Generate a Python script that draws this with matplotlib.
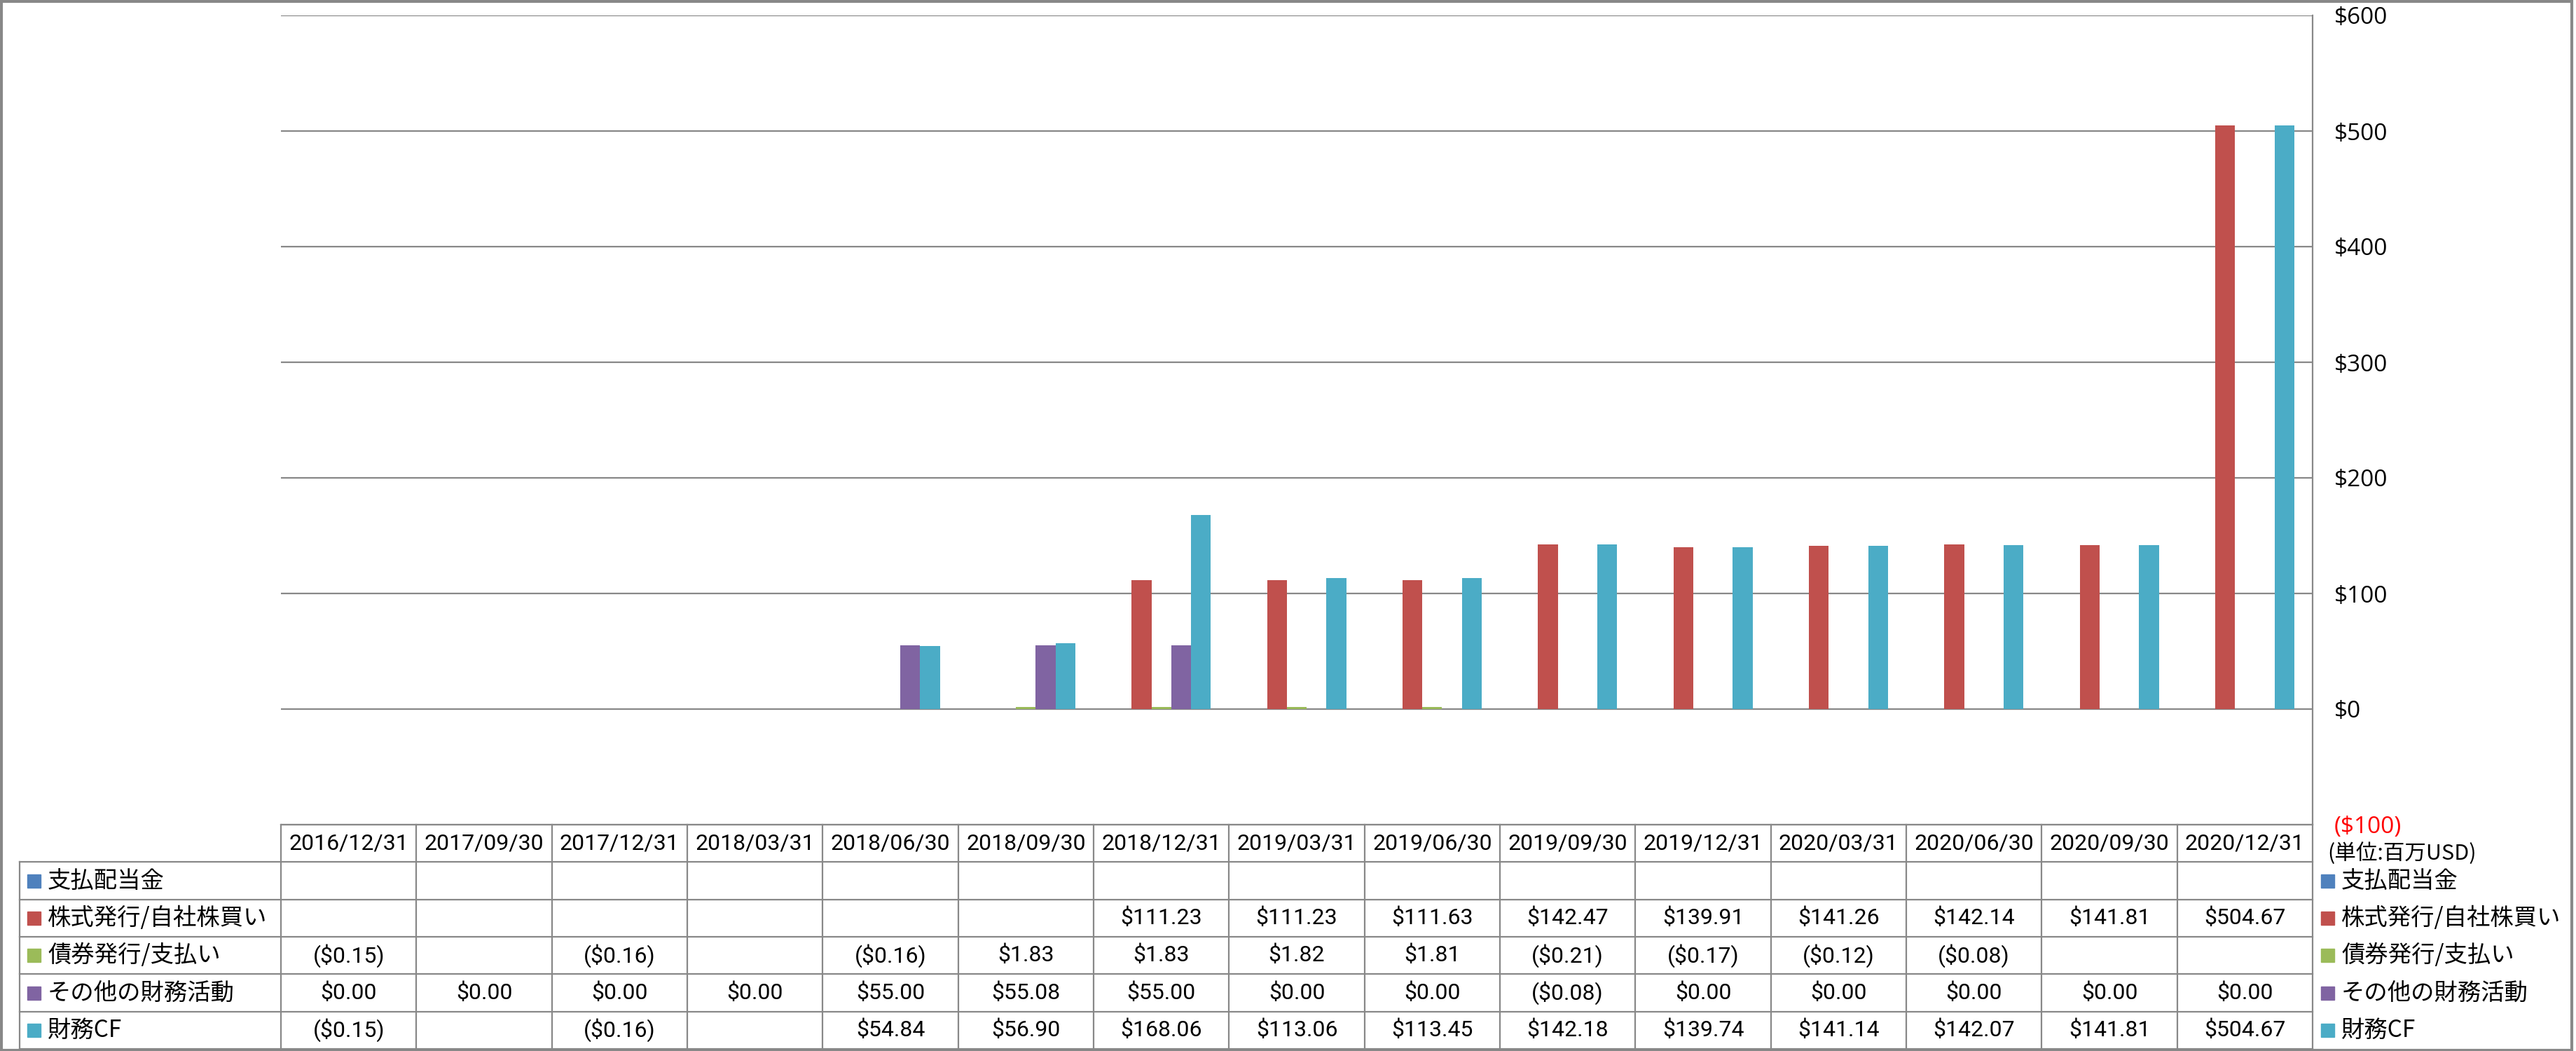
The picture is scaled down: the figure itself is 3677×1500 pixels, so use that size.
import matplotlib
matplotlib.use('Agg')
import matplotlib.pyplot as plt
from matplotlib import font_manager
from matplotlib.patches import Rectangle
import numpy as np

dates = ['2016/12/31', '2017/09/30', '2017/12/31', '2018/03/31', '2018/06/30',
         '2018/09/30', '2018/12/31', '2019/03/31', '2019/06/30', '2019/09/30',
         '2019/12/31', '2020/03/31', '2020/06/30', '2020/09/30', '2020/12/31']
series_names = ['支払配当金', '株式発行/自社株買い', '債券発行/支払い', 'その他の財務活動', '財務CF']
dividends = [None] * 15
stock = [None, None, None, None, None, None, 111.23, 111.23, 111.63, 142.47,
         139.91, 141.26, 142.14, 141.81, 504.67]
debt = [-0.15, None, -0.16, None, -0.16, 1.83, 1.83, 1.82, 1.81, -0.21,
        -0.17, -0.12, -0.08, None, None]
other = [0.00, 0.00, 0.00, 0.00, 55.00, 55.08, 55.00, 0.00, 0.00, -0.08,
         0.00, 0.00, 0.00, 0.00, 0.00]
cf = [-0.15, None, -0.16, None, 54.84, 56.90, 168.06, 113.06, 113.45, 142.18,
      139.74, 141.14, 142.07, 141.81, 504.67]
colors = ['#4F81BD', '#C0504D', '#9BBB59', '#8064A2', '#4BACC6']
yticks = [-100, 0, 100, 200, 300, 400, 500, 600]
unit_label = '(単位:百万USD)'

all_series = [dividends, stock, debt, other, cf]

ttf = font_manager.fontManager.ttflist
names = {f.name for f in ttf}
if 'Liberation Sans Narrow' in names:
    num_kw = dict(family=['Liberation Sans Narrow', 'DejaVu Sans'], fontsize=23)
elif 'Roboto' in names:
    num_kw = dict(family=['Roboto', 'DejaVu Sans'], fontsize=23)
else:
    num_kw = dict(family=['DejaVu Sans'], fontsize=20)
CJK = ['Noto Sans CJK JP', 'DejaVu Sans']
TICKFONT = ['Open Sans', 'DejaVu Sans']

W, H = 3677, 1500
fig = plt.figure(figsize=(W / 100, H / 100), dpi=100)
GRAY = '#888888'

PL, PR, PT, PB = 401, 3301, 22, 1177
ax = fig.add_axes([PL / W, 1 - PB / H, (PR - PL) / W, (PB - PT) / H])
n = len(dates)
x = np.arange(n)
bw = 0.146
for i, (vals, col) in enumerate(zip(all_series, colors)):
    v = np.array([np.nan if a is None else a for a in vals], dtype=float)
    ax.bar(x + (i - 2) * bw, v, width=bw, color=col, zorder=3, linewidth=0)

ax.set_xlim(-0.5, n - 0.5)
ax.set_ylim(-100, 600)
ax.set_yticks(yticks)


def money(v):
    if v < 0:
        return '(${:,.0f})'.format(-v)
    return '${:,.0f}'.format(v)


ax.yaxis.tick_right()
ax.set_yticklabels([money(v) for v in yticks], fontsize=24, family=TICKFONT)
for lbl, v in zip(ax.get_yticklabels(), yticks):
    lbl.set_horizontalalignment('left')
    if v < 0:
        lbl.set_color('red')
ax.tick_params(axis='y', length=0, pad=22)
ax.set_xticks([])
ax.grid(axis='y', color=GRAY, linewidth=1.6, zorder=0)
for s in ['left', 'top', 'bottom']:
    ax.spines[s].set_visible(False)
ax.spines['right'].set_color(GRAY)
ax.spines['right'].set_linewidth(1.6)

# unit label
fig.text(3322 / W, 1 - 1218 / H, unit_label, fontsize=22, family=CJK, ha='left', va='center')

# table
TL, TB = 28, 1497
tax = fig.add_axes([TL / W, 1 - TB / H, (PR - TL) / W, (TB - PB) / H])
catw = (PR - PL) / n
rowh = (TB - PB) / 6
labw = (PL - TL) / catw
x0 = -0.5 - labw
tax.set_xlim(x0, n - 0.5)
tax.set_ylim(6, 0)
tax.axis('off')
lw = 1.6
tax.plot([-0.5, n - 0.5], [0, 0], color=GRAY, lw=lw, clip_on=False)
for r in range(1, 7):
    tax.plot([x0, n - 0.5], [r, r], color=GRAY, lw=lw, clip_on=False)
tax.plot([x0, x0], [1, 6], color=GRAY, lw=lw, clip_on=False)
for k in range(n + 1):
    tax.plot([k - 0.5, k - 0.5], [0, 6], color=GRAY, lw=lw, clip_on=False)


def fmt(v):
    if v is None:
        return ''
    if v < 0:
        return '(${:,.2f})'.format(-v)
    return '${:,.2f}'.format(v)


sqw = 19 / catw
sqh = 19 / rowh
for j, d in enumerate(dates):
    tax.text(j, 0.5, d, ha='center', va='center', **num_kw)
for r, (nm, vals, col) in enumerate(zip(series_names, all_series, colors)):
    yc = r + 1.5
    tax.add_patch(Rectangle((x0 + 11 / catw, yc - sqh / 2), sqw, sqh, color=col, clip_on=False))
    tax.text(x0 + 40 / catw, yc, nm, ha='left', va='center', fontsize=24, family=CJK)
    for j, v in enumerate(vals):
        tax.text(j, yc, fmt(v), ha='center', va='center', **num_kw)
    # right legend
    lx = n - 0.5 + 12 / catw
    tax.add_patch(Rectangle((lx, yc - sqh / 2), sqw, sqh, color=col, clip_on=False))
    tax.text(lx + 29 / catw, yc, nm, ha='left', va='center', fontsize=24, family=CJK, clip_on=False)

# outer frame
fig.add_artist(Rectangle((0.0005, 0.001), 0.998, 0.998, transform=fig.transFigure,
                         fill=False, edgecolor=GRAY, linewidth=3))

fig.savefig('out.png', dpi=100)
